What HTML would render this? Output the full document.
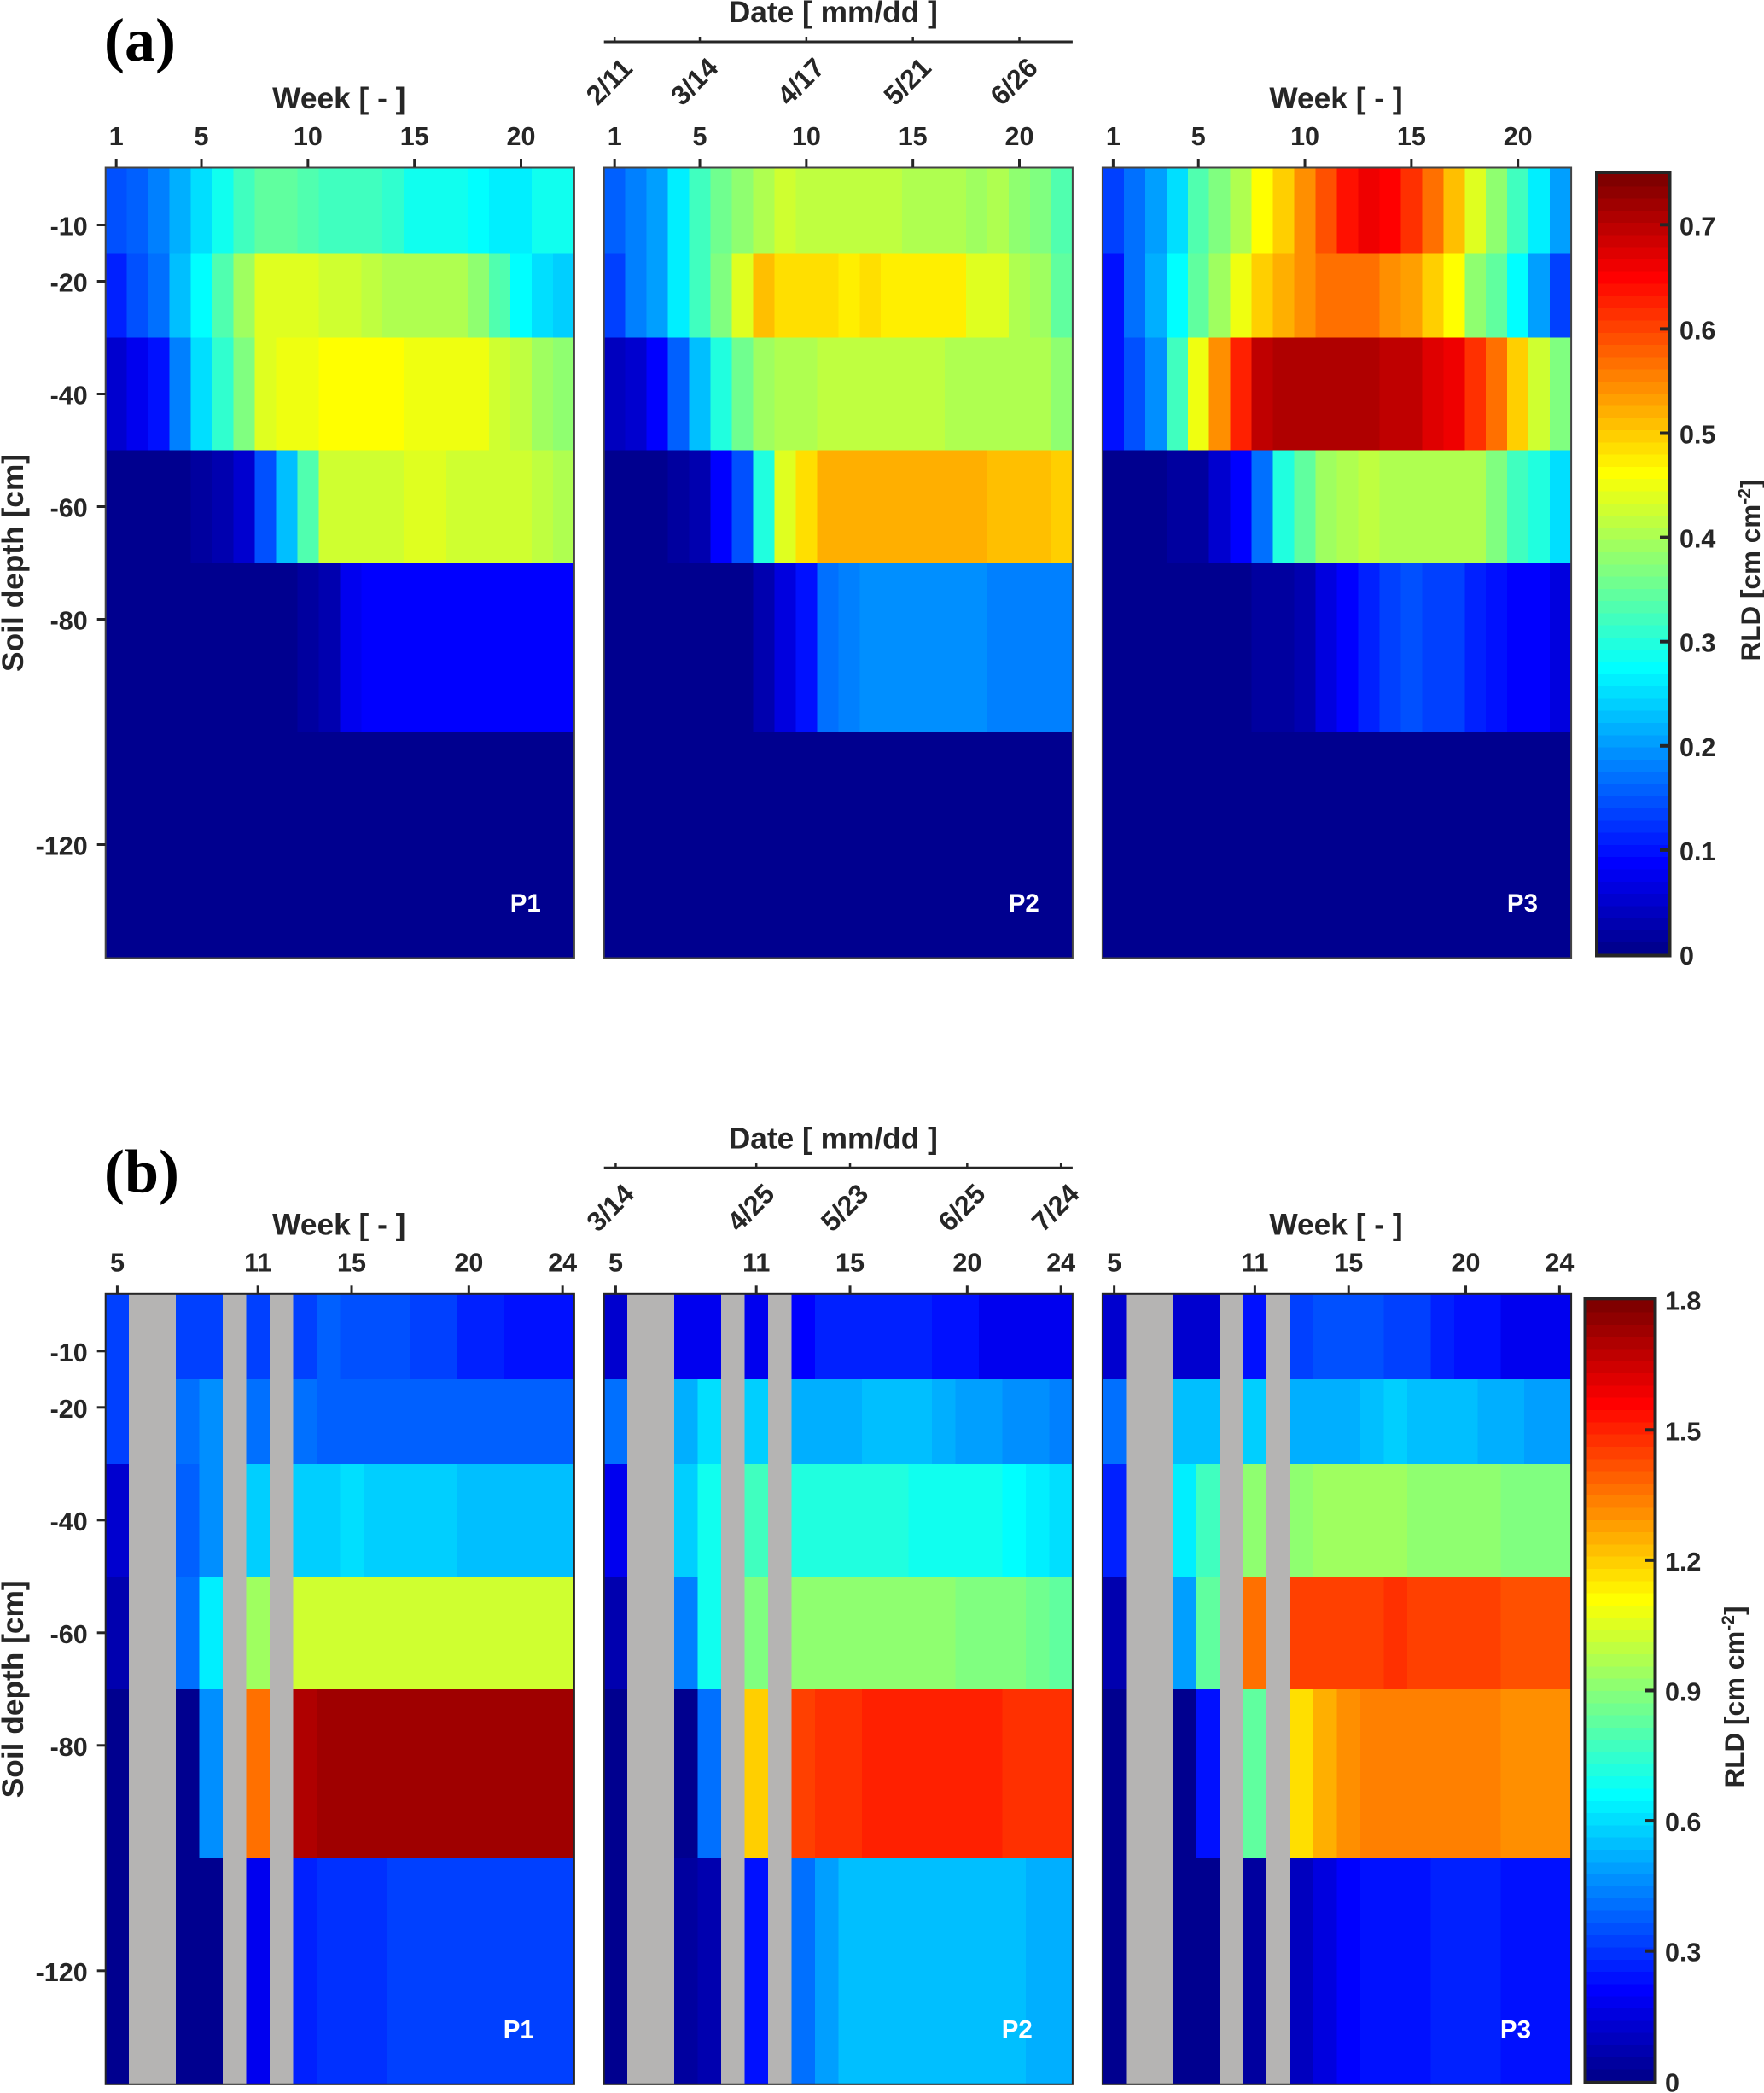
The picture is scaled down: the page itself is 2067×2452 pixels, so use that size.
<!DOCTYPE html>
<html lang="en">
<head>
<meta charset="utf-8">
<title>Root length density heatmaps</title>
<style>
  html, body { margin: 0; padding: 0; background: #fff; }
  svg { display: block; }
  text { font-family: "Liberation Sans", Arial, sans-serif; font-weight: bold; fill: #262626; }
</style>
</head>
<body>
<svg id="chart" xmlns="http://www.w3.org/2000/svg" width="2067" height="2452" viewBox="0 0 2067 2452"></svg>
<script>
const depthEdges = [0, 15, 30, 50, 70, 100, 140];
const depthTicks = [10, 20, 40, 60, 80, 120];
const weeksA = [1,2,3,4,5,6,7,8,9,10,11,12,13,14,15,16,17,18,19,20,21,22];
const weeksB = [5,6,7,8,9,10,11,12,13,14,15,16,17,18,19,20,21,22,23,24];
const weekTicksA = [1,5,10,15,20];
const weekTicksB = [5,11,15,20,24];
const dateLabelsA = ["2/11","3/14","4/17","5/21","6/26"];
const dateLabelsB = ["3/14","4/25","5/23","6/25","7/24"];
const colorTicksA = [0,0.1,0.2,0.3,0.4,0.5,0.6,0.7];
const colorTicksB = [0,0.3,0.6,0.9,1.2,1.5,1.8];
const colorMaxA = 0.75;
const colorMaxB = 1.8;
const n = null;

const rldAP1 = [
 [.15,.16,.19,.22,.255,.295,.33,.35,.35,.34,.33,.33,.33,.32,.295,.295,.295,.285,.27,.27,.295,.295],
 [.116,.153,.176,.23,.28,.34,.40,.44,.44,.44,.43,.43,.42,.415,.415,.415,.405,.39,.34,.28,.26,.25],
 [.06,.08,.11,.19,.26,.32,.375,.44,.455,.455,.47,.47,.47,.47,.455,.455,.455,.455,.43,.42,.40,.39],
 [0,0,0,0,.024,.035,.06,.15,.235,.34,.43,.43,.43,.43,.44,.44,.43,.43,.43,.43,.42,.41],
 [0,0,0,0,0,0,0,0,0,.024,.035,.08,.09,.09,.09,.09,.09,.09,.09,.09,.09,.09],
 [0,0,0,0,0,0,0,0,0,0,0,0,0,0,0,0,0,0,0,0,0,0]
];
const rldAP2 = [
 [.165,.19,.21,.27,.33,.365,.39,.415,.43,.42,.42,.42,.42,.42,.41,.41,.41,.40,.41,.39,.375,.34],
 [.14,.19,.21,.27,.33,.375,.44,.51,.495,.495,.495,.48,.495,.48,.48,.48,.48,.45,.44,.405,.395,.35],
 [.045,.06,.09,.16,.235,.305,.365,.395,.405,.405,.42,.42,.42,.42,.42,.42,.41,.41,.41,.41,.41,.39],
 [0,0,0,.024,.04,.09,.155,.305,.44,.495,.525,.525,.525,.525,.525,.525,.525,.525,.515,.515,.515,.505],
 [0,0,0,0,0,0,0,.035,.07,.11,.17,.19,.2,.2,.2,.2,.2,.2,.19,.19,.19,.19],
 [0,0,0,0,0,0,0,0,0,0,0,0,0,0,0,0,0,0,0,0,0,0]
];
const rldAP3 = [
 [.14,.175,.21,.26,.34,.375,.41,.47,.505,.55,.595,.64,.665,.655,.62,.575,.52,.44,.39,.33,.275,.215],
 [.11,.175,.225,.28,.35,.40,.455,.505,.525,.55,.575,.575,.575,.55,.54,.505,.47,.39,.35,.28,.215,.14],
 [.105,.155,.2,.33,.455,.55,.63,.70,.715,.715,.715,.715,.715,.70,.70,.68,.67,.62,.57,.505,.43,.37],
 [0,0,0,.024,.024,.06,.09,.18,.305,.35,.395,.405,.42,.405,.405,.405,.405,.405,.375,.33,.305,.26],
 [0,0,0,0,0,0,0,.024,.024,.035,.07,.09,.12,.14,.15,.145,.14,.115,.11,.09,.09,.07],
 [0,0,0,0,0,0,0,0,0,0,0,0,0,0,0,0,0,0,0,0,0,0]
];
const rldBP1 = [
 [.338,n,n,.338,.338,n,.338,n,.35,.395,.365,.365,.365,.338,.338,.295,.295,.267,.267,.267],
 [.338,n,n,.41,.48,n,.435,n,.41,.395,.395,.395,.395,.395,.38,.38,.38,.38,.38,.38],
 [.15,n,n,.395,.48,n,.59,n,.59,.59,.62,.59,.59,.59,.59,.56,.56,.56,.56,.56],
 [.084,n,n,.41,.65,n,.96,n,1.03,1.03,1.03,1.03,1.03,1.03,1.03,1.03,1.03,1.03,1.03,1.03],
 [0,n,n,0,.48,n,1.39,n,1.72,1.75,1.75,1.75,1.75,1.75,1.75,1.75,1.75,1.75,1.75,1.75],
 [0,n,n,0,0,n,.2,n,.28,.31,.31,.31,.34,.34,.34,.34,.34,.34,.34,.34]
];
const rldBP2 = [
 [.15,n,n,.2,.21,n,.21,n,.235,.28,.28,.28,.28,.28,.245,.245,.21,.21,.21,.21],
 [.41,n,n,.535,.62,n,.59,n,.535,.535,.535,.56,.56,.56,.535,.505,.505,.48,.48,.45],
 [.2,n,n,.59,.69,n,.775,n,.73,.73,.73,.73,.73,.70,.70,.70,.70,.675,.65,.62],
 [.084,n,n,.45,.69,n,.90,n,.93,.93,.93,.93,.93,.93,.93,.90,.90,.90,.87,.845],
 [0,n,n,.01,.42,n,1.21,n,1.46,1.5,1.5,1.53,1.53,1.53,1.53,1.53,1.53,1.5,1.5,1.5],
 [0,n,n,.056,.084,n,.25,n,.42,.505,.56,.56,.56,.56,.56,.56,.56,.56,.535,.535]
];
const rldBP3 = [
 [.13,n,n,.15,.15,n,.245,n,.335,.365,.365,.365,.35,.35,.29,.26,.26,.21,.21,.21],
 [.41,n,n,.55,.575,n,.59,n,.535,.535,.535,.56,.59,.56,.56,.56,.535,.535,.505,.505],
 [.28,n,n,.65,.80,n,.93,n,.93,.95,.95,.95,.95,.93,.93,.93,.93,.90,.90,.90],
 [.084,n,n,.505,.845,n,1.39,n,1.46,1.46,1.46,1.46,1.5,1.46,1.46,1.46,1.46,1.44,1.44,1.44],
 [0,n,n,0,.245,n,.845,n,1.18,1.27,1.31,1.35,1.35,1.35,1.35,1.35,1.35,1.31,1.31,1.31],
 [0,n,n,0,0,n,.056,n,.12,.17,.23,.265,.265,.265,.285,.285,.285,.265,.265,.245]
];

const SVGNS = "http://www.w3.org/2000/svg";
const root = document.getElementById("chart");
const INK = "#262626";
const GRAY = "#b5b4b3";

function node(parent, tag, attrs, txt) {
  const e = document.createElementNS(SVGNS, tag);
  for (const k in attrs) e.setAttribute(k, attrs[k]);
  if (txt !== undefined) e.textContent = txt;
  parent.appendChild(e);
  return e;
}

function jetU(j) {
  if (j < 1 || j > 47) return 0;
  if (j <= 16) return j / 16;
  if (j <= 31) return 1;
  return (48 - j) / 16;
}
function jetColor(i) {
  const c = u => Math.round(u * 255);
  return "rgb(" + c(jetU(i - 24)) + "," + c(jetU(i - 8)) + "," + c(jetU(i + 8)) + ")";
}
function colorFor(v, vmax) {
  const level = Math.max(1, Math.min(64, Math.round(v / vmax * 64)));
  return jetColor(level);
}

const PANEL_W = 549.2;
const DEPTH_PX = 6.6;

function drawHeatmap(cfg) {
  const g = node(root, "g", {});
  
  
  const cellW = PANEL_W / cfg.weeks.length;
  const xWeek = w => cfg.left + (w - cfg.weeks[0]) * cellW;
  const yDepth = d => cfg.y0 + d * DEPTH_PX;
  const top = cfg.y0 - 1.5;
  const bottom = yDepth(depthEdges[depthEdges.length - 1]) + 1.5;

  cfg.data.forEach((row, r) => {
    row.forEach((v, c) => {
      const x0 = xWeek(cfg.weeks[c]);
      const y0 = r === 0 ? top : yDepth(depthEdges[r]);
      const y1 = r === cfg.data.length - 1 ? bottom : yDepth(depthEdges[r + 1]);
      const cell = node(g, "rect", {
        x: x0, y: y0, width: cellW, height: y1 - y0,
        fill: v === null ? GRAY : colorFor(v, cfg.vmax),
        "shape-rendering": "crispEdges"
      });
      
      
    });
  });

  const frame = node(g, "rect", {
    x: cfg.left, y: top + 0.5, width: PANEL_W, height: bottom - top - 1,
    fill: "none", stroke: cfg.frameInk, "stroke-width": 2
  });
  
  

  cfg.weekTicks.forEach(w => {
    const cx = xWeek(w) + cellW / 2;
    const t = node(g, "line", { x1: cx, x2: cx, y1: top - 10, y2: top, stroke: INK, "stroke-width": 3 });
    
    
    const l = node(g, "text", { x: cx, y: cfg.y0 - 27.5, "text-anchor": "middle", "font-size": 30.5 }, String(w));
    
    
  });

  if (cfg.showWeekTitle) {
    const title = node(g, "text", { x: cfg.left + PANEL_W / 2 - 1, y: cfg.y0 - 70.5, "text-anchor": "middle", "font-size": 35.3 }, "Week [ - ]");
    
    
  }

  if (cfg.showDepth) {
    depthTicks.forEach(d => {
      const y = yDepth(d);
      const t = node(g, "line", { x1: cfg.left - 10, x2: cfg.left, y1: y, y2: y, stroke: INK, "stroke-width": 3 });
      
      
      const l = node(g, "text", { x: cfg.left - 21, y: y + 12, "text-anchor": "end", "font-size": 30.5 }, "-" + d);
      
      
    });
    const yMid = cfg.y0 + 462;
    const title = node(g, "text", { x: 0, y: 0, "text-anchor": "middle", "font-size": 35.3, transform: "translate(27," + yMid + ") rotate(-90)" }, "Soil depth [cm]");
    
    
  }

  if (cfg.dateLabels) {
    const axisY = cfg.y0 - 148.5;
    const line = node(g, "line", { x1: cfg.left, x2: cfg.left + PANEL_W, y1: axisY, y2: axisY, stroke: INK, "stroke-width": 3 });
    
    
    const title = node(g, "text", { x: cfg.left + PANEL_W / 2 - 6, y: cfg.y0 - 171.5, "text-anchor": "middle", "font-size": 35.3 }, "Date [ mm/dd ]");
    
    
    cfg.weekTicks.forEach((w, i) => {
      const cx = xWeek(w) + cellW / 2;
      const t = node(g, "line", { x1: cx, x2: cx, y1: axisY - 6, y2: axisY, stroke: INK, "stroke-width": 2.5 });
      
      
      const l = node(g, "text", {
        x: 0, y: 11, "text-anchor": "middle", "font-size": 32,
        transform: "translate(" + (cx - 6.5) + "," + (cfg.y0 - 102) + ") rotate(-45)"
      }, cfg.dateLabels[i]);
      
      
    });
  }

  const tag = node(g, "text", { x: cfg.left + cfg.tagDx, y: cfg.y0 + cfg.tagDy, "font-size": 29.5 }, cfg.tag);
  tag.style.fill = "#fff";
  
  
}

function drawColorbar(cfg) {
  const g = node(root, "g", {});
  
  
  const yVal = v => cfg.y0 - v * cfg.pxPerUnit;
  const h = cfg.barHeight;
  for (let i = 1; i <= 64; i++) {
    const b = node(g, "rect", {
      x: cfg.x0, y: cfg.y0 - h * i / 64, width: cfg.x1 - cfg.x0, height: h / 64 + 0.5,
      fill: jetColor(i), "shape-rendering": "crispEdges"
    });
    
    
  }
  const frame = node(g, "rect", {
    x: cfg.x0 - 1.5, y: cfg.y0 - h - 1.5, width: cfg.x1 - cfg.x0 + 3, height: h + 3,
    fill: "none", stroke: INK, "stroke-width": 4
  });
  
  
  cfg.ticks.forEach(v => {
    const y = yVal(v);
    if (v > 0 && v < cfg.vmax) {
      const t = node(g, "line", { x1: cfg.x1 - 10, x2: cfg.x1, y1: y, y2: y, stroke: INK, "stroke-width": 4 });
      
      
    }
    const l = node(g, "text", { x: cfg.x1 + cfg.labelGap, y: y + 12, "font-size": 30.5 }, String(v));
    
    
  });
  const title = node(g, "text", { x: 0, y: 0, "text-anchor": "middle", "font-size": 31.5, transform: "translate(" + cfg.titleX + "," + cfg.titleY + ") rotate(-90)" });
  
  
  node(title, "tspan", {}, "RLD [cm cm");
  node(title, "tspan", { dy: -11, "font-size": 21 }, "-2");
  node(title, "tspan", { dy: 11 }, "]");
}

const lefts = [123.7, 707.7, 1291.9];
const Y0A = 197.5;
const Y0B = 1516.8;

drawHeatmap({ name: "heatmap-a-p1", left: lefts[0], y0: Y0A, data: rldAP1, weeks: weeksA, weekTicks: weekTicksA, vmax: colorMaxA, tag: "P1", tagDx: 474, tagDy: 870.5, showWeekTitle: true, showDepth: true, frameInk: "#444" });
drawHeatmap({ name: "heatmap-a-p2", left: lefts[1], y0: Y0A, data: rldAP2, weeks: weeksA, weekTicks: weekTicksA, vmax: colorMaxA, tag: "P2", tagDx: 474, tagDy: 870.5, dateLabels: dateLabelsA, frameInk: "#444" });
drawHeatmap({ name: "heatmap-a-p3", left: lefts[2], y0: Y0A, data: rldAP3, weeks: weeksA, weekTicks: weekTicksA, vmax: colorMaxA, tag: "P3", tagDx: 474, tagDy: 870.5, showWeekTitle: true, frameInk: "#444" });
drawHeatmap({ name: "heatmap-b-p1", left: lefts[0], y0: Y0B, data: rldBP1, weeks: weeksB, weekTicks: weekTicksB, vmax: colorMaxB, tag: "P1", tagDx: 466, tagDy: 870.5, showWeekTitle: true, showDepth: true, frameInk: INK });
drawHeatmap({ name: "heatmap-b-p2", left: lefts[1], y0: Y0B, data: rldBP2, weeks: weeksB, weekTicks: weekTicksB, vmax: colorMaxB, tag: "P2", tagDx: 466, tagDy: 870.5, dateLabels: dateLabelsB, frameInk: INK });
drawHeatmap({ name: "heatmap-b-p3", left: lefts[2], y0: Y0B, data: rldBP3, weeks: weeksB, weekTicks: weekTicksB, vmax: colorMaxB, tag: "P3", tagDx: 466, tagDy: 870.5, showWeekTitle: true, frameInk: INK });

drawColorbar({ name: "colorbar-a", x0: 1872.5, x1: 1955, y0: 1118, pxPerUnit: 1221, barHeight: 914.5, vmax: colorMaxA, ticks: colorTicksA, labelGap: 13, titleX: 2062, titleY: 668 });
drawColorbar({ name: "colorbar-b", x0: 1859, x1: 1938, y0: 2438.3, pxPerUnit: 508.7, barHeight: 915.5, vmax: colorMaxB, ticks: colorTicksB, labelGap: 13, titleX: 2043, titleY: 1988 });

const panelA = node(root, "text", { x: 122, y: 71, "font-size": 72 }, "(a)");
panelA.style.fontFamily = '"Liberation Serif", serif';
panelA.style.fill = "#000";



const panelB = node(root, "text", { x: 122, y: 1396.7, "font-size": 72 }, "(b)");
panelB.style.fontFamily = '"Liberation Serif", serif';
panelB.style.fill = "#000";


</script>
</body>
</html>
